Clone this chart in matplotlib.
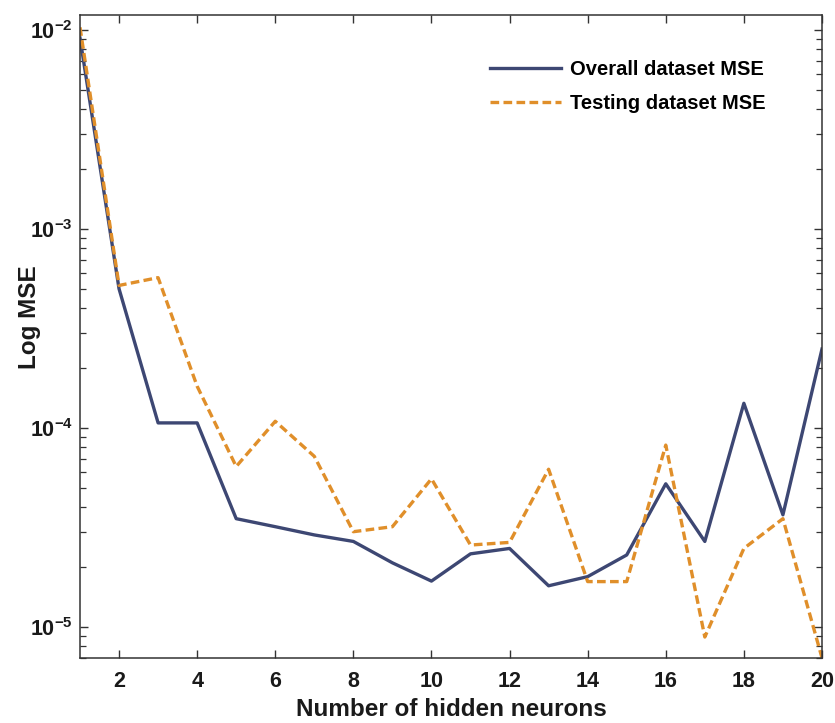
import matplotlib
matplotlib.use("Agg")
import matplotlib.pyplot as plt
from matplotlib.ticker import FixedLocator, FixedFormatter, LogLocator, NullFormatter

# data
neurons = list(range(1, 21))
overall_mse = [9.1e-3, 5.0e-4, 1.06e-4, 1.06e-4, 3.5e-5, 3.19e-5, 2.9e-5, 2.69e-5, 2.1e-5, 1.70e-5,
               2.33e-5, 2.48e-5, 1.61e-5, 1.79e-5, 2.30e-5, 5.24e-5, 2.69e-5, 1.33e-4, 3.66e-5, 2.49e-4]
testing_mse = [1.03e-2, 5.2e-4, 5.69e-4, 1.62e-4, 6.4e-5, 1.08e-4, 7.2e-5, 3.01e-5, 3.19e-5, 5.55e-5,
               2.58e-5, 2.66e-5, 6.2e-5, 1.69e-5, 1.69e-5, 8.2e-5, 8.9e-6, 2.48e-5, 3.5e-5, 7.0e-6]
y_ticks = [1e-5, 1e-4, 1e-3, 1e-2]
y_tick_labels = [r'$10^{-5}$', r'$10^{-4}$', r'$10^{-3}$', r'$10^{-2}$']
x_ticks = [2, 4, 6, 8, 10, 12, 14, 16, 18, 20]

plt.rcParams['font.family'] = ['Liberation Sans', 'DejaVu Sans']
plt.rcParams['font.weight'] = 'bold'
plt.rcParams['mathtext.fontset'] = 'custom'
plt.rcParams['mathtext.rm'] = 'Liberation Sans:bold'
plt.rcParams['mathtext.it'] = 'Liberation Sans:bold'
plt.rcParams['mathtext.bf'] = 'Liberation Sans:bold'

fig = plt.figure(figsize=(8.35, 7.23), dpi=100)
ax = fig.add_axes([0.0958, 0.0899, 0.8886, 0.8894])

blue = '#3d4773'
orange = '#e08f2a'
ax.plot(neurons, overall_mse, color=blue, lw=2.4, label='Overall dataset MSE')
ax.plot(neurons, testing_mse, color=orange, lw=2.4, ls=(0, (2.6, 1.3)), label='Testing dataset MSE')

ax.set_yscale('log')
ax.set_xlim(1, 20)
ax.set_ylim(10 ** -5.156, 10 ** -1.925)
ax.xaxis.set_major_locator(FixedLocator(x_ticks))
ax.yaxis.set_major_locator(FixedLocator(y_ticks))
ax.yaxis.set_major_formatter(FixedFormatter(y_tick_labels))
ax.yaxis.set_minor_locator(LogLocator(base=10, subs=range(2, 10)))
ax.yaxis.set_minor_formatter(NullFormatter())

ax.tick_params(which='both', direction='in', top=True, right=True, colors='#333333',
               labelcolor='#1a1a1a', labelsize=15.5)
ax.tick_params(which='major', length=6, width=1)
ax.tick_params(which='minor', length=4, width=0.9)
ax.tick_params(axis='x', pad=9)
ax.tick_params(axis='y', pad=5)
for s in ax.spines.values():
    s.set_color('#333333')
    s.set_linewidth(1.1)

ax.set_xlabel('Number of hidden neurons', fontsize=17.5, fontweight='bold', labelpad=5, color='#1a1a1a')
ax.set_ylabel('Log MSE', fontsize=17.5, fontweight='bold', color='#1a1a1a')
ax.yaxis.set_label_coords(-0.052, 0.53)

leg = ax.legend(loc='upper left', bbox_to_anchor=(0.5418, 0.9425), borderaxespad=0, frameon=False,
                fontsize=14.5, handlelength=3.5, handletextpad=0.46, labelspacing=0.75)
for t in leg.get_texts():
    t.set_fontweight('bold')

fig.savefig('out.png', dpi=100)
